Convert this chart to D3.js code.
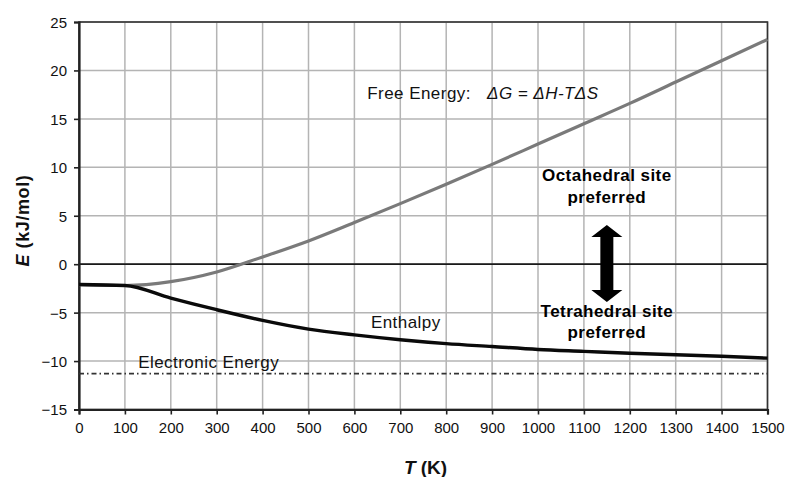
<!DOCTYPE html>
<html>
<head>
<meta charset="utf-8">
<script src="https://cdn.jsdelivr.net/npm/d3@7"></script>
<style>
  html, body { margin: 0; padding: 0; background: #fff; }
  svg { display: block; font-family: Arial, "Liberation Sans", sans-serif; }
</style>
</head>
<body>
<svg id="chart" width="787" height="477"></svg>
<script>
// Temperatures (K) at which the energies are evaluated
const temperatures = [0, 100, 200, 300, 400, 500, 600, 700, 800, 900, 1000, 1100, 1200, 1300, 1400, 1500];
// Free energy ΔG = ΔH − TΔS (kJ/mol)
const freeEnergy = [-2.1, -2.2, -1.8, -0.8, 0.75, 2.4, 4.3, 6.25, 8.25, 10.3, 12.4, 14.5, 16.6, 18.8, 21.0, 23.2];
// Enthalpy ΔH (kJ/mol)
const enthalpy = [-2.1, -2.2, -3.5, -4.7, -5.8, -6.7, -7.3, -7.8, -8.2, -8.5, -8.8, -9.0, -9.2, -9.35, -9.5, -9.7];
// Electronic energy, temperature independent (kJ/mol)
const electronicEnergy = -11.3;

const xTicks = [0, 100, 200, 300, 400, 500, 600, 700, 800, 900, 1000, 1100, 1200, 1300, 1400, 1500];
const yTicks = [-15, -10, -5, 0, 5, 10, 15, 20, 25];

const width = 787, height = 477;
const margin = { top: 22, right: 19.5, bottom: 67.5, left: 79 };

const svg = d3.select("#chart");
const x = d3.scaleLinear().domain([0, 1500]).range([margin.left, width - margin.right]);
const y = d3.scaleLinear().domain([-15, 25]).range([height - margin.bottom, margin.top]);

// Grid
const grid = svg.append("g");
grid.selectAll("line.v").data(xTicks).join("line")
  .attr("x1", d => x(d)).attr("x2", d => x(d))
  .attr("y1", y(25)).attr("y2", y(-15))
  .attr("stroke", "#b4b4b4").attr("stroke-width", 1.5);
grid.selectAll("line.h").data(yTicks).join("line")
  .attr("x1", x(0)).attr("x2", x(1500))
  .attr("y1", d => y(d)).attr("y2", d => y(d))
  .attr("stroke", "#b4b4b4").attr("stroke-width", 1.5);

// Zero line
svg.append("line")
  .attr("x1", x(0)).attr("x2", x(1500))
  .attr("y1", y(0)).attr("y2", y(0))
  .attr("stroke", "#1a1a1a").attr("stroke-width", 1.8);

// Plot frame
svg.append("rect")
  .attr("x", x(0)).attr("y", y(25))
  .attr("width", x(1500) - x(0)).attr("height", y(-15) - y(25))
  .attr("fill", "none").attr("stroke", "#333").attr("stroke-width", 1.6);

// Axes
const xAxis = svg.append("g")
  .attr("transform", `translate(0,${y(-15)})`)
  .call(d3.axisBottom(x).tickValues(xTicks).tickSize(5).tickPadding(8).tickFormat(d3.format("d")));
const yAxis = svg.append("g")
  .attr("transform", `translate(${x(0)},0)`)
  .call(d3.axisLeft(y).tickValues(yTicks).tickSize(5).tickPadding(7).tickFormat(d3.format("d")));
[xAxis, yAxis].forEach(g => {
  g.select(".domain").attr("stroke", "#222").attr("stroke-width", 2.2);
  g.selectAll(".tick line").attr("stroke", "#222").attr("stroke-width", 1.6);
  g.selectAll(".tick text").attr("fill", "#111").style("font-size", "15px")
    .style("font-family", "Arial, 'Liberation Sans', sans-serif");
});
yAxis.selectAll(".tick text").attr("dy", "0.36em");

// Electronic energy (dash-dot)
svg.append("line")
  .attr("x1", x(0)).attr("x2", x(1500))
  .attr("y1", y(electronicEnergy)).attr("y2", y(electronicEnergy))
  .attr("stroke", "#333").attr("stroke-width", 1.6)
  .attr("stroke-dasharray", "5,3,1.5,3");

const line = d3.line().x(d => x(d[0])).y(d => y(d[1])).curve(d3.curveMonotoneX);

// Free energy curve
svg.append("path")
  .datum(temperatures.map((t, i) => [t, freeEnergy[i]]))
  .attr("d", line).attr("fill", "none")
  .attr("stroke", "#7a7a7a").attr("stroke-width", 3.2);

// Enthalpy curve
svg.append("path")
  .datum(temperatures.map((t, i) => [t, enthalpy[i]]))
  .attr("d", line).attr("fill", "none")
  .attr("stroke", "#0a0a0a").attr("stroke-width", 3.4);

// Double-headed arrow between the two regions
const ax = x(1150), aTop = y(4.05), aBot = y(-3.9);
const headW = 15.5, headH = 12, shaftW = 6.5;
svg.append("path")
  .attr("d", [
    `M${ax},${aTop}`,
    `L${ax + headW},${aTop + headH}`,
    `L${ax + shaftW},${aTop + headH}`,
    `L${ax + shaftW},${aBot - headH}`,
    `L${ax + headW},${aBot - headH}`,
    `L${ax},${aBot}`,
    `L${ax - headW},${aBot - headH}`,
    `L${ax - shaftW},${aBot - headH}`,
    `L${ax - shaftW},${aTop + headH}`,
    `L${ax - headW},${aTop + headH}`, "Z"].join(""))
  .attr("fill", "#000");

// Annotations
const ann = svg.append("g").attr("fill", "#111")
  .style("font-size", "17px").style("letter-spacing", "0.45px");

ann.append("text").attr("x", x(628)).attr("y", y(17.1)).text("Free Energy:");
ann.append("text").attr("x", x(889)).attr("y", y(17.1))
  .style("font-style", "italic").text("ΔG = ΔH-TΔS");
ann.append("text").attr("x", x(636)).attr("y", y(-6.55)).text("Enthalpy");
ann.append("text").attr("x", x(129)).attr("y", y(-10.75)).text("Electronic Energy");

const bold = ann.append("g").style("font-weight", "bold").attr("text-anchor", "middle").attr("fill", "#000");
bold.append("text").attr("x", x(1150)).attr("y", y(8.6)).text("Octahedral site");
bold.append("text").attr("x", x(1150)).attr("y", y(6.36)).text("preferred");
bold.append("text").attr("x", x(1150)).attr("y", y(-5.44)).text("Tetrahedral site");
bold.append("text").attr("x", x(1150)).attr("y", y(-7.58)).text("preferred");

// Axis titles
const yTitle = svg.append("text")
  .attr("transform", `translate(29,${y(4.5)}) rotate(-90)`)
  .attr("text-anchor", "middle").attr("fill", "#111")
  .style("font-size", "18px").style("font-weight", "bold").style("letter-spacing", "0.6px");
yTitle.append("tspan").style("font-style", "italic").text("E");
yTitle.append("tspan").text(" (kJ/mol)");

const xTitle = svg.append("text")
  .attr("x", x(755)).attr("y", 474)
  .attr("text-anchor", "middle").attr("fill", "#111")
  .style("font-size", "19px").style("font-weight", "bold");
xTitle.append("tspan").style("font-style", "italic").text("T");
xTitle.append("tspan").text(" (K)");
</script>
</body>
</html>
